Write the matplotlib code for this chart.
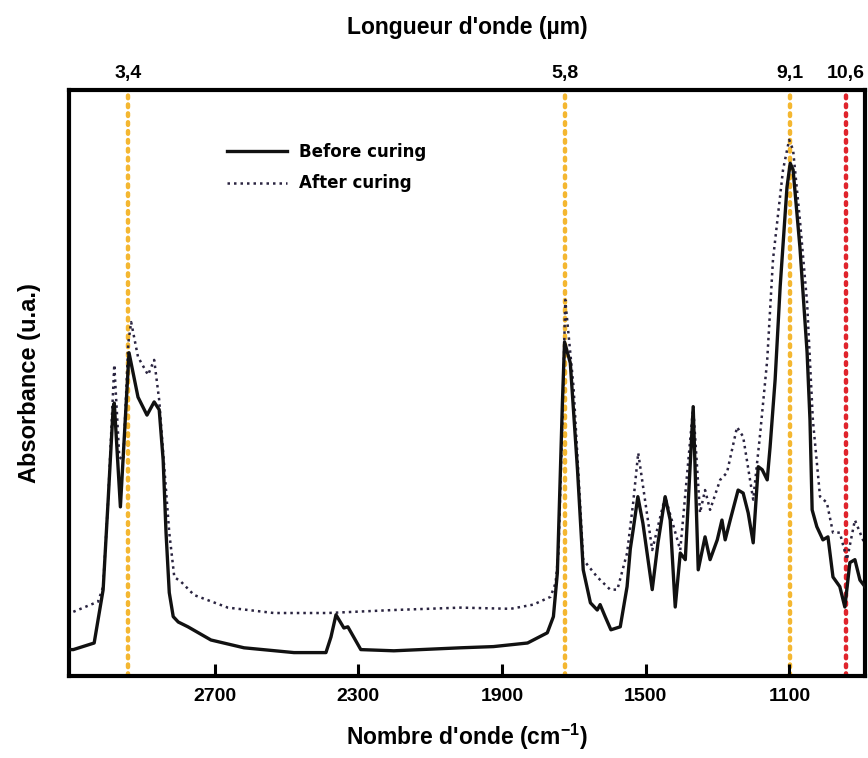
import matplotlib
matplotlib.use("Agg")
import matplotlib.pyplot as plt

plt.rcParams['font.family'] = ['Liberation Sans', 'DejaVu Sans']
plt.rcParams['mathtext.fontset'] = 'custom'
plt.rcParams['mathtext.rm'] = 'Liberation Sans:bold'
plt.rcParams['mathtext.bf'] = 'Liberation Sans:bold'
plt.rcParams['mathtext.it'] = 'Liberation Sans:bold'

# ---- Data (wavenumber cm-1, absorbance a.u.) ----
before_wn = [3099, 3093, 3035, 3010, 2996, 2982, 2979, 2962, 2938, 2913, 2888, 2868,
             2854, 2843, 2835, 2826, 2815, 2801, 2774, 2710, 2618, 2479, 2390, 2376,
             2362, 2349, 2340, 2329, 2293, 2201, 2015, 1924, 1829, 1774, 1757, 1746,
             1743, 1732, 1726, 1710, 1690, 1674, 1654, 1635, 1627, 1613, 1597, 1571,
             1552, 1543, 1535, 1522, 1508, 1482, 1466, 1446, 1432, 1418, 1404, 1390,
             1368, 1354, 1335, 1321, 1301, 1288, 1279, 1265, 1243, 1229, 1215, 1201,
             1187, 1176, 1162, 1154, 1140, 1126, 1107, 1098, 1090, 1071, 1051, 1043,
             1037, 1024, 1007, 993, 979, 960, 946, 932, 918, 904, 890]
before_abs = [0.067, 0.067, 0.078, 0.167, 0.317, 0.472, 0.478, 0.305, 0.562, 0.488, 0.458, 0.480,
              0.467, 0.383, 0.262, 0.162, 0.122, 0.113, 0.105, 0.083, 0.070, 0.062, 0.062, 0.088,
              0.125, 0.112, 0.103, 0.105, 0.067, 0.065, 0.070, 0.072, 0.078, 0.095, 0.122, 0.195,
              0.255, 0.478, 0.580, 0.545, 0.367, 0.200, 0.145, 0.133, 0.142, 0.122, 0.100, 0.105,
              0.172, 0.235, 0.267, 0.322, 0.278, 0.167, 0.245, 0.322, 0.283, 0.138, 0.228, 0.217,
              0.472, 0.200, 0.255, 0.217, 0.250, 0.283, 0.250, 0.283, 0.333, 0.328, 0.295, 0.245,
              0.372, 0.367, 0.350, 0.405, 0.517, 0.672, 0.838, 0.878, 0.867, 0.738, 0.562, 0.450,
              0.300, 0.272, 0.250, 0.255, 0.188, 0.172, 0.138, 0.212, 0.217, 0.183, 0.172]

after_wn = [3093, 3024, 3010, 2996, 2979, 2965, 2954, 2940, 2932, 2913, 2885, 2868,
            2854, 2840, 2826, 2812, 2793, 2757, 2663, 2535, 2385, 2201, 2015, 1876,
            1813, 1765, 1751, 1743, 1732, 1724, 1701, 1674, 1635, 1599, 1579, 1552,
            1535, 1521, 1501, 1482, 1446, 1404, 1368, 1349, 1335, 1321, 1293, 1274,
            1246, 1229, 1201, 1182, 1162, 1146, 1118, 1101, 1090, 1071, 1051, 1035,
            1015, 996, 979, 960, 940, 918, 899, 890]
after_abs = [0.130, 0.147, 0.172, 0.317, 0.542, 0.388, 0.383, 0.578, 0.613, 0.555, 0.525, 0.550,
             0.483, 0.372, 0.262, 0.188, 0.180, 0.158, 0.137, 0.128, 0.128, 0.133, 0.137, 0.135,
             0.142, 0.155, 0.178, 0.228, 0.450, 0.650, 0.505, 0.217, 0.188, 0.167, 0.167, 0.228,
             0.312, 0.395, 0.312, 0.233, 0.322, 0.233, 0.472, 0.295, 0.333, 0.300, 0.350, 0.362,
             0.438, 0.422, 0.317, 0.425, 0.550, 0.717, 0.867, 0.917, 0.900, 0.783, 0.645, 0.450,
             0.322, 0.312, 0.262, 0.262, 0.217, 0.283, 0.255, 0.242]

xticks = [2700, 2300, 1900, 1500, 1100]
marker_wn = [2941, 1724, 1099, 943]
marker_labels = ['3,4', '5,8', '9,1', '10,6']
marker_colors = ['#F4B731', '#F4B731', '#F4B731', '#E0242C']

fig = plt.figure(figsize=(8.68, 7.58), dpi=100)
ax = fig.add_axes([0.0795, 0.1082, 0.917, 0.773])

for wn, c in zip(marker_wn, marker_colors):
    ax.axvline(wn, color=c, lw=3.2, ls=(0, (0.6, 1.4)), dash_capstyle='round', zorder=1)

ax.plot(before_wn, before_abs, color='#111111', lw=2.4, zorder=3, label='Before curing')
ax.plot(after_wn, after_abs, color='#2a2440', lw=1.8, ls=(0, (1, 1.6)), zorder=2, label='After curing')

ax.set_xlim(3105, 890)
ax.set_ylim(0.023, 1.0)
ax.set_xticks(xticks)
ax.set_xticklabels([str(t) for t in xticks], fontsize=14, fontweight='bold')
ax.set_yticks([])
ax.tick_params(axis='x', direction='in', length=9, width=2.2, pad=9)
for s in ax.spines.values():
    s.set_linewidth(3)

ax.set_xlabel("Nombre d'onde (cm$^{-1}$)", fontsize=16.5, fontweight='bold', labelpad=12)
ax.set_ylabel("Absorbance (u.a.)", fontsize=17, fontweight='bold', labelpad=20)

top = ax.secondary_xaxis('top')
top.set_xticks(marker_wn)
top.set_xticklabels(marker_labels, fontsize=14, fontweight='bold')
top.tick_params(length=0, pad=6)
top.set_xlabel("Longueur d'onde (µm)", fontsize=16.5, fontweight='bold', labelpad=22)

leg = ax.legend(loc='upper left', bbox_to_anchor=(0.18, 0.935), frameon=False,
                prop={'family': 'DejaVu Sans', 'weight': 'bold', 'size': 12},
                handlelength=3.6, handletextpad=0.7, labelspacing=0.8)

fig.savefig('out.png', dpi=100)
